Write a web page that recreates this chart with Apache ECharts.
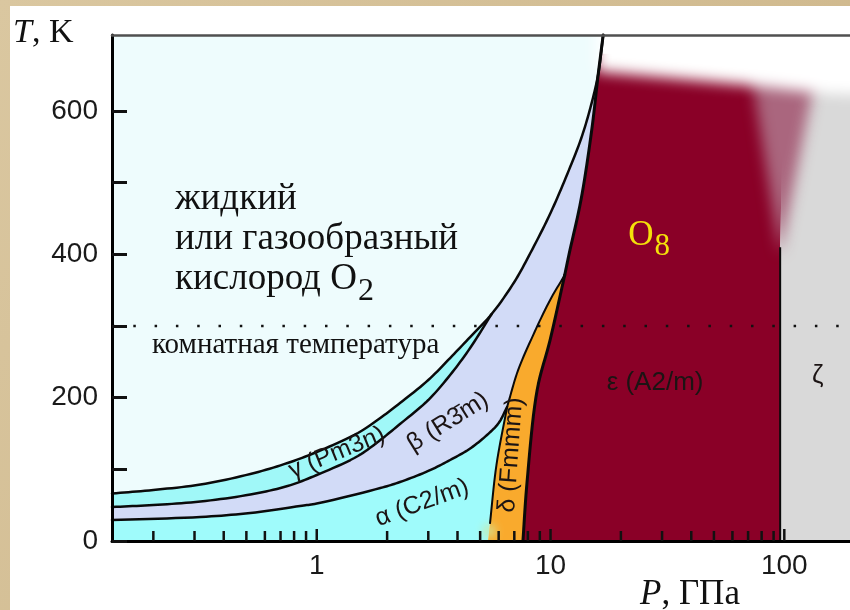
<!DOCTYPE html>
<html>
<head>
<meta charset="utf-8">
<script src="https://cdn.jsdelivr.net/npm/echarts@6/dist/echarts.min.js"></script>
<style>
  html, body { margin: 0; padding: 0; background: #d5c095; }
  #chart { width: 850px; height: 610px; }
</style>
</head>
<body>
<div id="chart"></div>
<script>
// ---- Axes -------------------------------------------------------------
const pressureRange = [0.1331, 191];          // GPa, logarithmic
const temperatureRange = [0, 706];            // K
const pressureMajorTicks = [1, 10, 100];
const pressureMinorTicks = [0.2, 0.3, 0.4, 0.5, 0.6, 0.7, 0.8, 0.9,
                            2, 3, 4, 5, 6, 7, 8, 9,
                            20, 30, 40, 50, 60, 70, 80, 90];
const temperatureTicks = [0, 100, 200, 300, 400, 500, 600];
const temperatureLabels = [0, 200, 400, 600];
const roomTemperature = 300;

// ---- Phase boundaries, [P (GPa), T (K)] -------------------------------
const meltingCurve = [[0.1331, 66.3], [0.2, 71.2], [0.318, 78.8], [0.52, 93.5], [0.75, 108.8],
  [1, 124.2], [1.5, 150.7], [1.87, 171.6], [2.27, 192.5], [3, 224.6], [3.72, 255.3],
  [4.53, 284.6], [5.6, 316.7], [7, 361.4], [8.2, 401.8], [10, 457.7], [11.8, 512.1],
  [13.5, 560.9], [14.8, 604.2], [16.0, 651.6], [16.8, 706]];
const gammaBetaCurve = [[0.1331, 47.4], [0.2, 50.2], [0.318, 55.1], [0.52, 64.9], [0.75, 76.7],
  [1, 92.1], [1.5, 118.6], [1.87, 140.9], [2.27, 163.2], [3, 196.7], [3.72, 231.6],
  [4.53, 269.3], [5.6, 316.7]];
const betaAlphaCurve = [[0.1331, 29.3], [0.318, 33.5], [0.52, 39.1], [0.848, 48.8], [1, 52.3],
  [1.87, 73.9], [2.27, 82.3], [3, 97.7], [3.72, 113], [4.5, 128.4], [5.35, 147.9],
  [6.0, 164.6], [6.52, 187]];
const alphaDeltaCurve = [[5.4, 0], [5.51, 25], [5.87, 106], [6.52, 187]];
const betaDeltaCurve = [[6.52, 187], [7.26, 238], [8.42, 287], [9.95, 336], [11.5, 371]];
const deltaEpsilonCurve = [[7.62, 0], [7.93, 81], [8.77, 211], [9.95, 280], [11.5, 371]];
const epsilonCurve = [[11.5, 371], [12.0, 400], [13.5, 476], [15.0, 573], [16.0, 651.6],
  [16.8, 706]];
const epsilonZetaLine = [[96, 0], [96, 410]];
const epsilonZetaFunnel = [[70, 680], [142, 680], [96, 400]];
const hotEdge = [[15.6, 655], [71, 636], [141, 625], [191, 623]];

// ---- Phase names --------------------------------------------------------
const phaseLabels = [
  { text: 'γ (Pm3n)', p: 1.22, t: 123, angle: 22 },
  { text: 'β (R3\u0304m)', p: 3.64, t: 166, angle: 32 },
  { text: 'α (C2/m)', p: 2.82, t: 53, angle: 20 },
  { text: 'δ (Fmmm)', p: 6.78, t: 120, angle: 86 },
  { text: 'ε (A2/m)', p: 28, t: 220, angle: 0 },
  { text: 'ζ', p: 139, t: 231, angle: 0 }
];
const o8Anchor = [21.5, 410];

// ---- Geometry helpers -------------------------------------------------
const [Pmin, Pmax] = pressureRange;
const Tmax = temperatureRange[1];
const STEPS = 10;                 // spline samples per boundary segment
const OFF = 3000;                 // blurred shapes are drawn off-canvas; their shadow lands in place
const SERIF = '"Liberation Serif", "Times New Roman", serif';
const SANS = '"Liberation Sans", Arial, sans-serif';

const idx = (curve, p) => curve.findIndex(d => d[0] === p);

function lerp(a, b, ta, tb, t) {
  const w = (tb - ta) || 1e-6;
  return [((tb - t) * a[0] + (t - ta) * b[0]) / w, ((tb - t) * a[1] + (t - ta) * b[1]) / w];
}
// centripetal Catmull-Rom through pixel points
function spline(px) {
  if (px.length < 3) return px.slice();
  const d = (a, b) => Math.max(Math.sqrt(Math.hypot(b[0] - a[0], b[1] - a[1])), 1e-4);
  const out = [px[0]];
  const n = px.length;
  for (let i = 0; i < n - 1; i++) {
    const p1 = px[i], p2 = px[i + 1];
    const p0 = i > 0 ? px[i - 1] : [2 * p1[0] - p2[0], 2 * p1[1] - p2[1]];
    const p3 = i < n - 2 ? px[i + 2] : [2 * p2[0] - p1[0], 2 * p2[1] - p1[1]];
    const t0 = 0, t1 = d(p0, p1), t2 = t1 + d(p1, p2), t3 = t2 + d(p2, p3);
    for (let k = 1; k <= STEPS; k++) {
      const t = t1 + (t2 - t1) * k / STEPS;
      const A1 = lerp(p0, p1, t0, t1, t), A2 = lerp(p1, p2, t1, t2, t), A3 = lerp(p2, p3, t2, t3, t);
      const B1 = lerp(A1, A2, t0, t2, t), B2 = lerp(A2, A3, t1, t3, t);
      out.push(lerp(B1, B2, t1, t2, t));
    }
  }
  return out;
}

const curves = {
  A: meltingCurve, B: gammaBetaCurve, C: betaAlphaCurve, AD: alphaDeltaCurve,
  BD: betaDeltaCurve, DE: deltaEpsilonCurve, E: epsilonCurve
};
const last = c => curves[c].length - 1;

// Region outlines: [curve, fromIndex, toIndex] pieces or plain [P, T] corners
const regions = [
  { fill: '#eefcfd', parts: [['A', 0, last('A')], [[Pmin, Tmax]]] },
  { fill: '#a0f8f8', parts: [['A', 0, idx(meltingCurve, 5.6)], ['B', last('B'), 0]] },
  { fill: '#d2dbf7', parts: [['B', 0, last('B')],
      ['A', idx(meltingCurve, 5.6), idx(meltingCurve, 16.0)],
      ['E', idx(epsilonCurve, 16.0), 0], ['BD', last('BD'), 0], ['C', last('C'), 0]] },
  { fill: '#9ffbfb', parts: [['C', 0, last('C')], ['AD', last('AD'), 0], [[Pmin, 0]]] },
  { fill: '#f9aa2d', parts: [['AD', 0, last('AD')], ['BD', 0, last('BD')], ['DE', last('DE'), 0]] },
  { fill: '#8a0027', parts: [['DE', 0, last('DE')], ['E', 0, idx(epsilonCurve, 16.0)],
      [[16.3, 680], [100, 680], epsilonZetaLine[1], epsilonZetaLine[0]]] },
  { fill: '#d9d9d9', parts: [[epsilonZetaLine[0], epsilonZetaLine[1], [100, 680],
      [Pmax, 680], [Pmax, 0]]] }
];

const boundaryLines = [
  ['A', 0, last('A'), 2.5], ['B', 0, last('B'), 2.5], ['C', 0, last('C'), 2.5],
  ['AD', 1, last('AD'), 2], ['BD', 0, last('BD'), 2], ['DE', 0, last('DE'), 3],
  ['E', 0, last('E'), 3]
];

function densePaths(api) {
  const out = {};
  Object.keys(curves).forEach(k => { out[k] = spline(curves[k].map(d => api.coord(d))); });
  return out;
}
function piece(dense, part, api) {
  if (typeof part[0] === 'string') {
    const [k, i0, i1] = part;
    const lo = Math.min(i0, i1) * STEPS, hi = Math.max(i0, i1) * STEPS;
    const seg = dense[k].slice(lo, hi + 1);
    return i0 <= i1 ? seg : seg.reverse();
  }
  return part.map(d => api.coord(d));
}

const regionSeries = {
  type: 'custom', silent: true, z: 1, clip: false, animation: false,
  data: regions.map(() => [1, 100]),
  renderItem: (params, api) => {
    const dense = densePaths(api);
    const r = regions[params.dataIndex];
    let pts = [];
    r.parts.forEach(p => { pts = pts.concat(piece(dense, p, api)); });
    return { type: 'polygon', shape: { points: pts }, style: { fill: r.fill } };
  }
};

const lineSeries = {
  type: 'custom', silent: true, z: 6, clip: false, animation: false,
  data: boundaryLines.map(() => [1, 100]),
  renderItem: (params, api) => {
    const dense = densePaths(api);
    const b = boundaryLines[params.dataIndex];
    return {
      type: 'polyline', shape: { points: piece(dense, b, api) },
      style: { stroke: '#0a0a0a', lineWidth: b[3], fill: null, lineJoin: 'round', lineCap: 'round' }
    };
  }
};

function blurredSeries(ring, fill, z, blur) {
  return {
    type: 'custom', silent: true, z, clip: false, animation: false,
    data: [[1, 100]],
    renderItem: (params, api) => ({
      type: 'polygon',
      shape: { points: ring.map(d => { const c = api.coord(d); return [c[0] + OFF, c[1]]; }) },
      style: { fill, shadowColor: fill, shadowBlur: blur, shadowOffsetX: -OFF }
    })
  };
}

const measure = (() => {
  const ctx = document.createElement('canvas').getContext('2d');
  return (txt, font) => { ctx.font = font; return ctx.measureText(txt).width; };
})();

const tickSeries = {
  type: 'custom', silent: true, z: 12, clip: false, animation: false,
  data: pressureMajorTicks.map(v => [v, 0, 12]).concat(pressureMinorTicks.map(v => [v, 0, 10])),
  renderItem: (params, api) => {
    const c = api.coord([api.value(0), 0]);
    return {
      type: 'line',
      shape: { x1: c[0], y1: c[1], x2: c[0], y2: c[1] - api.value(2) },
      style: { stroke: '#111', lineWidth: 2.5 }
    };
  }
};

const labelSeries = {
  type: 'custom', silent: true, z: 8, clip: false, animation: false,
  data: phaseLabels.map(l => [l.p, l.t]),
  renderItem: (params, api) => {
    const l = phaseLabels[params.dataIndex];
    const c = api.coord([l.p, l.t]);
    const big = l.angle === 0;
    return {
      type: 'text', x: c[0], y: c[1], rotation: l.angle * Math.PI / 180,
      style: {
        text: l.text, fill: '#1c1414', align: 'center', verticalAlign: 'middle',
        fontSize: big ? 26 : 25, fontFamily: SANS
      }
    };
  }
};

const o8Series = {
  type: 'custom', silent: true, z: 8, clip: false, animation: false,
  data: [o8Anchor],
  renderItem: (params, api) => {
    const c = api.coord(o8Anchor);
    const w = measure('O', '35px "Liberation Serif"');
    return {
      type: 'group',
      children: [
        { type: 'text', x: c[0], y: c[1] - 0.3375 * 35,
          style: { text: 'O', fontSize: 35, fontFamily: SERIF, fill: '#f4e10a',
                   align: 'left', verticalAlign: 'middle' } },
        { type: 'text', x: c[0] + w + 1, y: c[1] + 10 - 0.3375 * 31,
          style: { text: '8', fontSize: 31, fontFamily: SERIF, fill: '#f4e10a',
                   align: 'left', verticalAlign: 'middle' } }
      ]
    };
  }
};

const glowSeries = {
  type: 'custom', silent: true, z: 3, clip: false, animation: false,
  data: [[5.47, 14]],
  renderItem: (params, api) => {
    const c = api.coord([api.value(0), api.value(1)]);
    return {
      type: 'circle', shape: { cx: c[0] + OFF, cy: c[1], r: 6 },
      style: { fill: '#cfe8a0', shadowColor: '#cfe8a0', shadowBlur: 10, shadowOffsetX: -OFF }
    };
  }
};

// Caption of the fluid phase
const capFont = 37, capX = 175;
const capLine3 = 'кислород O';
const capLine3W = measure(capLine3, capFont + 'px "Liberation Serif"');

const chart = echarts.init(document.getElementById('chart'), null,
  { renderer: 'canvas', width: 850, height: 610 });

const option = {
  backgroundColor: {
    type: 'linear', x: 0, y: 0, x2: 1, y2: 1,
    colorStops: [{ offset: 0, color: '#dac7a0' }, { offset: 1, color: '#cbb386' }]
  },
  animation: false,
  grid: { left: 112, right: 0, top: 35, bottom: 69, containLabel: false },
  xAxis: [{
    type: 'log', logBase: 10, min: Pmin, max: Pmax, position: 'bottom', z: 10,
    axisLine: { show: true, lineStyle: { color: '#000', width: 3 } },
    axisTick: { show: false },
    minorTick: { show: false },
    splitLine: { show: false },
    axisLabel: {
      fontSize: 28, fontFamily: SANS, color: '#1a1a1a', margin: 11,
      showMinLabel: false, showMaxLabel: false,
      formatter: v => {
        const r = Math.round(v);
        return pressureMajorTicks.includes(r) && Math.abs(v - r) < 1e-6 * r ? String(r) : '';
      }
    }
  }, {
    type: 'log', logBase: 10, min: Pmin, max: Pmax, position: 'top', z: 10,
    axisLine: { show: true, lineStyle: { color: '#505050', width: 2.5 } },
    axisTick: { show: false }, axisLabel: { show: false }, splitLine: { show: false }
  }],
  yAxis: {
    type: 'value', min: temperatureRange[0], max: temperatureRange[1], z: 10,
    axisLine: { show: true, lineStyle: { color: '#000', width: 3 } },
    axisTick: { show: true, inside: true, length: 15, customValues: temperatureTicks,
                lineStyle: { color: '#111', width: 3 } },
    axisLabel: { customValues: temperatureLabels, fontSize: 28, fontFamily: SANS,
                 color: '#1a1a1a', margin: 14, padding: [8, 0, 0, 0] },
    splitLine: { show: false }
  },
  graphic: [
    { type: 'rect', z: 0, silent: true, shape: { x: 10, y: 6, width: 840, height: 604 },
      style: { fill: '#ffffff' } },
    { type: 'text', z: 20, x: 13, y: 45 - 0.3375 * 34, silent: true,
      style: { text: '{i|T}, K', fontSize: 34, fontFamily: SERIF, fill: '#111',
               verticalAlign: 'middle',
               rich: { i: { fontStyle: 'italic', fontSize: 34, fontFamily: SERIF, fill: '#111' } } } },
    { type: 'text', z: 20, x: 640, y: 607 - 0.3375 * 35, silent: true,
      style: { text: '{i|P}, ГПа', fontSize: 35, fontFamily: SERIF, fill: '#111',
               verticalAlign: 'middle',
               rich: { i: { fontStyle: 'italic', fontSize: 35, fontFamily: SERIF, fill: '#111' } } } },
    { type: 'text', z: 20, x: capX, y: 212 - 0.3375 * capFont, silent: true,
      style: { text: 'жидкий', fontSize: capFont, fontFamily: SERIF, fill: '#111', verticalAlign: 'middle' } },
    { type: 'text', z: 20, x: capX, y: 252 - 0.3375 * capFont, silent: true,
      style: { text: 'или газообразный', fontSize: capFont, fontFamily: SERIF, fill: '#111', verticalAlign: 'middle' } },
    { type: 'text', z: 20, x: capX, y: 292 - 0.3375 * capFont, silent: true,
      style: { text: capLine3, fontSize: capFont, fontFamily: SERIF, fill: '#111', verticalAlign: 'middle' } },
    { type: 'text', z: 20, x: capX + capLine3W + 1, y: 302 - 0.3375 * 32, silent: true,
      style: { text: '2', fontSize: 32, fontFamily: SERIF, fill: '#111', verticalAlign: 'middle' } },
    { type: 'text', z: 20, x: 152, y: 355 - 0.3375 * 29, silent: true,
      style: { text: 'комнатная температура', fontSize: 29, fontFamily: SERIF, fill: '#111', verticalAlign: 'middle' } }
  ],
  series: [
    regionSeries,
    blurredSeries(epsilonZetaFunnel, '#aa667e', 2, 14),
    glowSeries,
    blurredSeries(hotEdge.concat([[400, 623], [400, 720], [15.6, 720]]), '#ffffff', 4, 14),
    {
      type: 'line', data: [[Pmin, roomTemperature], [Pmax, roomTemperature]], symbol: 'none',
      silent: true, animation: false, z: 5,
      lineStyle: { color: '#111', width: 2.5, type: [2.5, 18.8] }
    },
    lineSeries,
    {
      type: 'line', data: epsilonZetaLine, symbol: 'none', silent: true, animation: false, z: 6,
      lineStyle: { color: '#0a0a0a', width: 2 }
    },
    labelSeries,
    o8Series,
    tickSeries
  ]
};

chart.setOption(option);
</script>
</body>
</html>
